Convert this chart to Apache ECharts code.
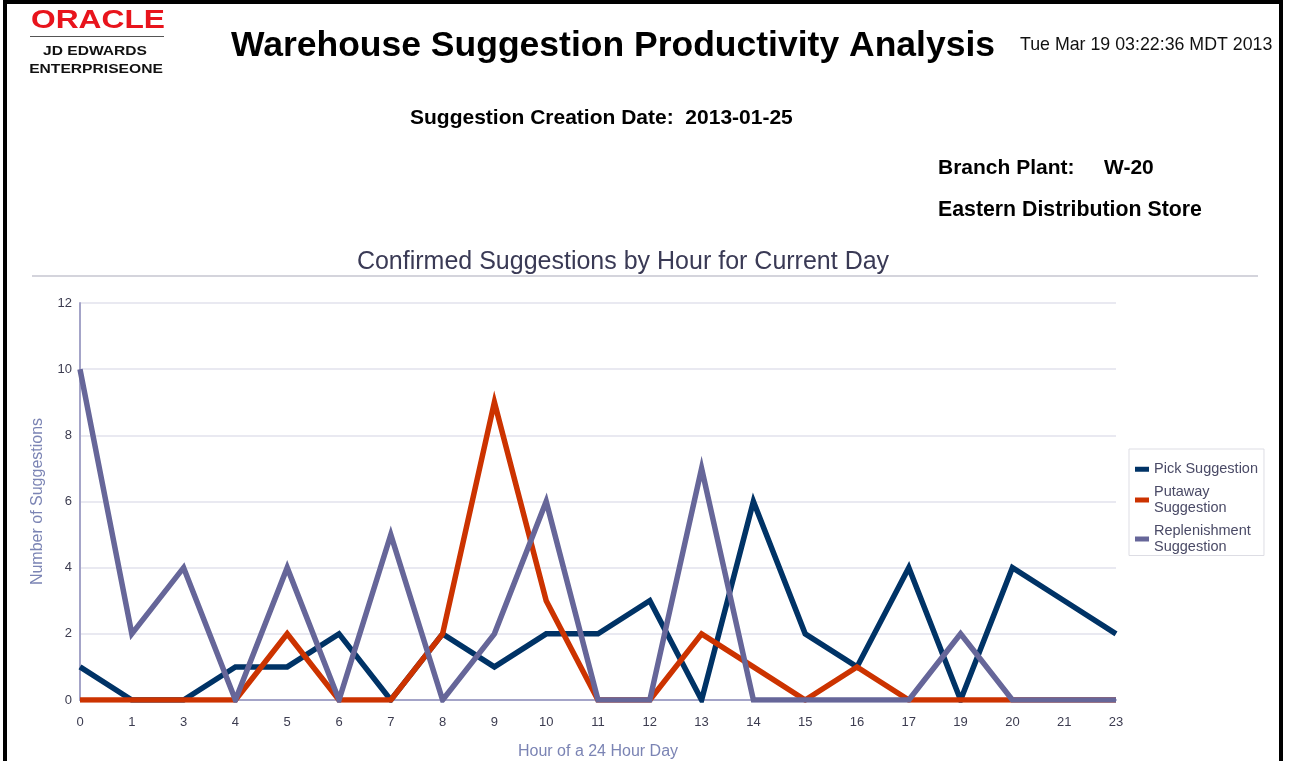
<!DOCTYPE html>
<html>
<head>
<meta charset="utf-8">
<title>Warehouse Suggestion Productivity Analysis</title>
<script src="https://cdn.jsdelivr.net/npm/echarts@6/dist/echarts.min.js"></script>
<style>
  html, body {
    margin: 0;
    padding: 0;
    background: #fff;
    overflow: hidden;
  }
  #chart {
    width: 1290px;
    height: 761px;
  }
</style>
</head>
<body>
<div id="chart"></div>
<script>
// hours that have data (2, 18 and 22 are not in the report)
const hours = ['0', '1', '3', '4', '5', '6', '7', '8', '9', '10', '11', '12', '13', '14', '15', '16', '17', '19', '20', '21', '23']

const pickSuggestion = [1, 0, 0, 1, 1, 2, 0, 2, 1, 2, 2, 3, 0, 6, 2, 1, 4, 0, 4, 3, 2]
const putawaySuggestion = [0, 0, 0, 0, 2, 0, 0, 2, 9, 3, 0, 0, 2, 1, 0, 1, 0, 0, 0, 0, 0]
const replenishmentSuggestion = [10, 2, 4, 0, 4, 0, 5, 0, 2, 6, 0, 0, 7, 0, 0, 0, 0, 2, 0, 0, 0]

const yTicks = [0, 2, 4, 6, 8, 10, 12]

const FONT = 'Arial, "Liberation Sans", sans-serif'

// legend labels wrap like the original report
const legendLabels = {
  'Pick Suggestion': 'Pick Suggestion',
  'Putaway Suggestion': 'Putaway\nSuggestion',
  'Replenishment Suggestion': 'Replenishment\nSuggestion'
}

const text = (x, y, str, font, fill, align, scaleX) => ({
  type: 'text',
  x: x,
  y: y,
  scaleX: scaleX || 1,
  silent: true,
  style: {
    text: str,
    font: font,
    fill: fill,
    textAlign: align || 'left',
    textVerticalAlign: 'middle'
  }
})

const chart = echarts.init(document.getElementById('chart'))

const option = {
  backgroundColor: '#fff',
  animation: false,
  textStyle: { fontFamily: FONT },
  title: {
    text: 'Confirmed Suggestions by Hour for Current Day',
    left: 618,
    top: 245,
    textAlign: 'center',
    textStyle: {
      fontFamily: FONT,
      fontSize: 25,
      fontWeight: 'normal',
      color: '#3a3a55'
    }
  },
  graphic: [
    // page frame
    { type: 'rect', silent: true, shape: { x: 3, y: 0, width: 4, height: 761 }, style: { fill: '#000' } },
    { type: 'rect', silent: true, shape: { x: 3, y: 0, width: 1280, height: 4 }, style: { fill: '#000' } },
    { type: 'rect', silent: true, shape: { x: 1279, y: 0, width: 4, height: 761 }, style: { fill: '#000' } },
    // logo
    text(98, 21, 'ORACLE', 'bold 26px ' + FONT, '#e8141c', 'center', 1.22),
    { type: 'rect', silent: true, shape: { x: 30, y: 36, width: 134, height: 1 }, style: { fill: '#555' } },
    text(95, 52, 'JD EDWARDS', 'bold 12px ' + FONT, '#111', 'center', 1.3),
    text(96, 70, 'ENTERPRISEONE', 'bold 12.5px ' + FONT, '#111', 'center', 1.25),
    // header
    text(613, 46, 'Warehouse Suggestion Productivity Analysis', 'bold 35.5px ' + FONT, '#000', 'center'),
    text(1020, 45, 'Tue Mar 19 03:22:36 MDT 2013', '17.8px ' + FONT, '#111', 'left'),
    text(410, 118, 'Suggestion Creation Date:  2013-01-25', 'bold 21px ' + FONT, '#000', 'left'),
    text(938, 168, 'Branch Plant:', 'bold 21px ' + FONT, '#000', 'left'),
    text(1104, 168, 'W-20', 'bold 21px ' + FONT, '#000', 'left'),
    text(938, 210, 'Eastern Distribution Store', 'bold 21.3px ' + FONT, '#000', 'left'),
    // rule under the chart title
    { type: 'rect', silent: true, shape: { x: 32, y: 275, width: 1226, height: 2 }, style: { fill: '#d4d4dc' } }
  ],
  legend: {
    orient: 'vertical',
    left: 1129,
    top: 449,
    padding: [12, 6, 0, 6],
    itemGap: 6,
    itemWidth: 14,
    itemHeight: 5,
    icon: 'rect',
    borderColor: '#dddde4',
    borderWidth: 1,
    borderRadius: 0,
    formatter: name => legendLabels[name],
    textStyle: {
      fontFamily: FONT,
      fontSize: 14.5,
      color: '#4a4a66',
      lineHeight: 16.5
    },
    data: ['Pick Suggestion', 'Putaway Suggestion', 'Replenishment Suggestion']
  },
  grid: {
    left: 80,
    top: 303,
    width: 1036,
    height: 397,
    outerBoundsMode: 'none',
    containLabel: false
  },
  xAxis: {
    type: 'category',
    data: hours,
    boundaryGap: false,
    name: 'Hour of a 24 Hour Day',
    nameLocation: 'middle',
    nameGap: 44,
    nameTextStyle: {
      fontFamily: FONT,
      fontSize: 16,
      color: '#7b84b4'
    },
    axisLine: { lineStyle: { color: '#a4a4c8', width: 2 } },
    axisTick: { show: false },
    axisLabel: {
      interval: 0,
      margin: 16,
      fontSize: 13,
      color: '#3c3c50'
    },
    splitLine: { show: false }
  },
  yAxis: {
    type: 'value',
    min: yTicks[0],
    max: yTicks[yTicks.length - 1],
    interval: yTicks[1] - yTicks[0],
    name: 'Number of Suggestions',
    nameLocation: 'middle',
    nameGap: 34,
    nameTextStyle: {
      fontFamily: FONT,
      fontSize: 16,
      color: '#7b84b4'
    },
    axisLine: { show: true, lineStyle: { color: '#a4a4c8', width: 2 } },
    axisTick: { show: false },
    axisLabel: {
      margin: 8,
      fontSize: 13,
      color: '#3c3c50'
    },
    splitLine: { lineStyle: { color: '#e2e2ec', width: 1.5 } }
  },
  series: [
    {
      name: 'Pick Suggestion',
      type: 'line',
      data: pickSuggestion,
      symbol: 'none',
      color: '#003366',
      lineStyle: { width: 5.5, color: '#003366', join: 'miter' }
    },
    {
      name: 'Putaway Suggestion',
      type: 'line',
      data: putawaySuggestion,
      symbol: 'none',
      color: '#cc3300',
      lineStyle: { width: 5.5, color: '#cc3300', join: 'miter' }
    },
    {
      name: 'Replenishment Suggestion',
      type: 'line',
      data: replenishmentSuggestion,
      symbol: 'none',
      color: '#666699',
      lineStyle: { width: 5.5, color: '#666699', join: 'miter' }
    }
  ]
}

chart.setOption(option)
</script>
</body>
</html>
